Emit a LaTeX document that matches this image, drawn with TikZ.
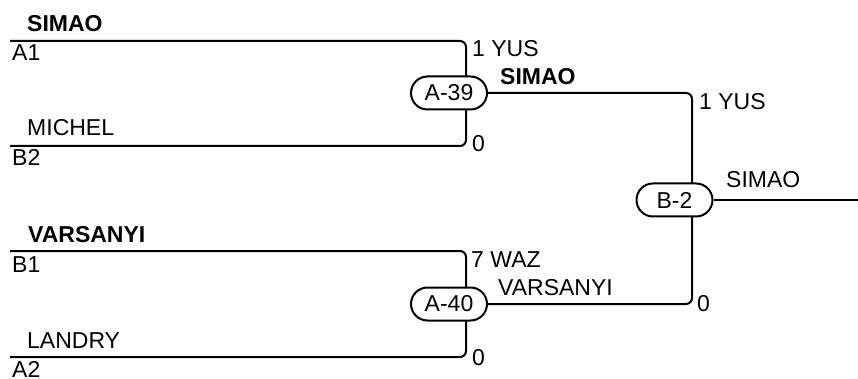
\documentclass[tikz,border=0pt]{standalone}
\usepackage{fontspec}
\setmainfont{Liberation Sans}
\begin{document}
\begin{tikzpicture}[x=1pt,y=-1pt,
  wire/.style={line width=2pt,rounded corners=6pt},
  game/.style={draw,line width=2pt,fill=white,rounded corners=16.5pt,minimum width=76pt,minimum height=33pt,inner sep=0pt,font=\fontsize{23}{25}\selectfont},
  lbl/.style={anchor=base west,inner sep=0pt,font=\fontsize{23}{25}\selectfont},
  blbl/.style={lbl,font=\fontsize{23}{25}\selectfont\bfseries}]
\useasboundingbox (0,0) rectangle (858,379);
% left entry coordinates
\coordinate (a1) at (10,41);
\coordinate (b2) at (10,146);
\coordinate (b1) at (10,251);
\coordinate (a2) at (10,357);
\coordinate (out) at (858,200);
% wires into first round
\draw[wire] (a1) -- (466,41) -- (466,146) -- (b2);
\draw[wire] (b1) -- (466,251) -- (466,357) -- (a2);
% game nodes
\node[game] (g39) at (449,93) {A-39};
\node[game] (g40) at (449,304) {A-40};
% wires into final
\draw[wire] (g39.east) -- (692,93) -- (692,304) -- (g40.east);
\node[game] (gb2) at (674.5,200) {B-2};
\draw[line width=2pt] (gb2.east) -- (out);
% labels
\node[blbl] (t1) at (27,32) {SIMAO};
\node[lbl] (t2) at (12,61) {A1};
\node[lbl] (t3) at (27,136) {MICHEL};
\node[lbl] (t4) at (12,166) {B2};
\node[blbl] (t5) at (28,242) {VARSANYI};
\node[lbl] (t6) at (12,272) {B1};
\node[lbl] (t7) at (27,348) {LANDRY};
\node[lbl] (t8) at (12,377) {A2};
\node[lbl] (s1) at (472,57) {1 YUS};
\node[blbl] (s2) at (500,85) {SIMAO};
\node[lbl] (s3) at (472,152) {0};
\node[lbl] (s4) at (471,267) {7 WAZ};
\node[lbl] (s5) at (498,295) {VARSANYI};
\node[lbl] (s6) at (472,365) {0};
\node[lbl] (s7) at (699,110) {1 YUS};
\node[lbl] (s8) at (697,311) {0};
\node[lbl] (s9) at (726,188) {SIMAO};
\end{tikzpicture}
\end{document}
